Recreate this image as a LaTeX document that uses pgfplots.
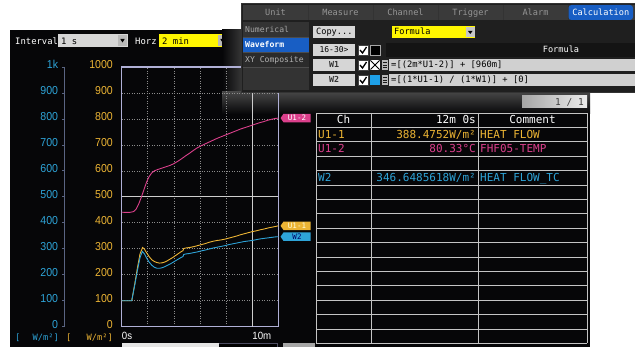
\documentclass[border=0pt]{standalone}
\usepackage{pgfplots}
\pgfplotsset{compat=1.18}
\usepackage{fontspec}
\setmainfont{Liberation Sans}
\newfontfamily\numfont{Liberation Sans}[FakeStretch=0.92]
\newfontfamily\mono{DejaVu Sans Mono}
\usetikzlibrary{shapes.symbols}

\newcommand\mf[1]{\mono\fontsize{#1}{#1}\selectfont}
\newcommand\nf[1]{\numfont\fontsize{#1}{#1}\selectfont}

\definecolor{scr}{RGB}{6,6,8}
\definecolor{yel}{RGB}{236,180,52}
\definecolor{pnk}{RGB}{220,64,140}
\definecolor{cyn}{RGB}{46,164,216}
\definecolor{frm}{RGB}{176,176,214}
\definecolor{gridc}{RGB}{140,140,140}
\definecolor{refl}{RGB}{205,205,205}
\definecolor{sline}{RGB}{90,100,130}
\definecolor{btn}{RGB}{214,214,214}
\definecolor{fld}{RGB}{208,208,208}
\definecolor{blu}{RGB}{24,94,196}
\definecolor{sel}{RGB}{30,160,232}
\definecolor{tabg}{RGB}{58,58,58}
\definecolor{tabt}{RGB}{150,150,150}
\definecolor{tline}{RGB}{196,196,196}
\definecolor{ylw}{RGB}{255,246,0}

\tikzset{tags/.style={shape=signal, signal to=west, signal pointer angle=110,
    minimum width=30pt, minimum height=8.4pt, inner sep=0pt,
    anchor=west, xshift=2pt, font=\mf{7.5}}}

\begin{document}
\begin{tikzpicture}
\useasboundingbox (0pt,0pt) rectangle (635pt,-347pt);
\fill[white] (0pt,0pt) rectangle (635pt,-347pt);

\begin{scope}[x=1pt,y=-1pt]
  % recorder screen
  \fill[scr] (10,30) rectangle (590,347);

  % toolbar
  \node[anchor=base west,inner sep=0,text=white,font=\mf{8.9}] at (15,44.5) {Interval};
  \fill[btn] (58,34) rectangle (128,47);
  \node[anchor=base west,inner sep=0,text=black,font=\mf{8.9}] at (61,44.5) {1 s};
  \fill[gray!55!white] (118,35) rectangle (127,46);
  \fill[black] (120.3,39) -- (124.7,39) -- (122.5,42.5) -- cycle;
  \node[anchor=base west,inner sep=0,text=white,font=\mf{8.9}] at (135,44.5) {Horz};
  \fill[ylw] (159,34) rectangle (228,47);
  \node[anchor=base west,inner sep=0,text=black,font=\mf{8.9}] at (162,44.5) {2 min};
  \fill[gray!55!white] (218,35) rectangle (227,46);
  \fill[black] (220.3,39) -- (224.7,39) -- (222.5,42.5) -- cycle;
  \node[anchor=base west,inner sep=0,text=white,font=\mf{8.9}] at (236,44.5) {D};

  % glow around the settings panel
  \shade[left color=scr, right color=gray!45!black] (222,30) rectangle (243,95);
  \shade[top color=gray!55!black, bottom color=scr] (222,92) rectangle (590,114);

  % cyan scale line and its ticks
  \draw[sline, line width=0.8pt] (64.3,67) -- (64.3,326.7);

  % units under the scales
  \node[anchor=base west,inner sep=0,text=cyn,font=\mf{8.7}] at (15,341) {[};
  \node[anchor=base east,inner sep=0,text=cyn,font=\mf{8.7}] at (59,341) {W/m²]};
  \node[anchor=base west,inner sep=0,text=yel,font=\mf{8.7}] at (66,341) {[};
  \node[anchor=base east,inner sep=0,text=yel,font=\mf{8.7}] at (113,341) {W/m²]};

  % scroll bar
  \fill[black!80!blue!40!gray] (121.7,343) rectangle (278,347);
  \fill[black] (122.5,343.8) rectangle (277.2,347);
  \fill[gray!20!white] (121.7,343) rectangle (219,347);
  \fill[gray!70!white] (283,343.5) rectangle (315,347);

  % page box
  \shade[left color=gray!70!white, right color=gray!15!white] (522,96) rectangle (587,108);
  \node[anchor=base east,inner sep=0,text=black!75,font=\mf{9.5}] at (584,105.5) {1 / 1};

  % value table
  \foreach \k in {0,...,16}
    \draw[tline,line width=0.8pt] (316,{113+14.4*\k}) -- (587,{113+14.4*\k});
  \foreach \xx in {316,371,478,587}
    \draw[tline,line width=0.8pt] (\xx,113) -- (\xx,343.4);
  \begin{scope}[every node/.style={inner sep=0,font=\mf{11}}]
    \node[anchor=base,text=white] at (343.5,124) {Ch};
    \node[anchor=base east,text=white] at (476,124) {12m 0s};
    \node[anchor=base,text=white] at (532.5,124) {Comment};
    \node[anchor=base west,text=yel] at (318,138.4) {U1-1};
    \node[anchor=base east,text=yel] at (476,138.4) {388.4752W/m²};
    \node[anchor=base west,text=yel] at (480,138.4) {HEAT FLOW};
    \node[anchor=base west,text=pnk] at (318,152.8) {U1-2};
    \node[anchor=base east,text=pnk] at (476,152.8) {80.33°C};
    \node[anchor=base west,text=pnk] at (480,152.8) {FHF05-TEMP};
    \node[anchor=base west,text=cyn] at (318,181.6) {W2};
    \node[anchor=base east,text=cyn] at (476,181.6) {346.6485618W/m²};
    \node[anchor=base west,text=cyn] at (480,181.6) {HEAT FLOW\_TC};
  \end{scope}
\end{scope}

% cyan scale
\begin{axis}[
  at={(64.3pt,-326.7pt)}, anchor=south west,
  scale only axis, width=2pt, height=259.7pt,
  xmin=0, xmax=1, ymin=0, ymax=1000,
  axis x line=none, axis y line=left,
  axis line style={-, draw=none},
  ytick={0,100,...,1000},
  yticklabels={0,100,200,300,400,500,600,700,800,900,1k},
  tick align=outside, major tick length=2pt,
  tick style={draw=sline, line width=0.8pt},
  yticklabel style={anchor=base east, inner sep=0pt, text=cyn, font=\nf{11.5}, xshift=-4pt, yshift=-1.5pt},
]
\end{axis}

% waveform area with the yellow scale
\begin{axis}[
  at={(121.7pt,-326.7pt)}, anchor=south west,
  scale only axis, width=156.6pt, height=259.7pt,
  xmin=0, xmax=12, ymin=0, ymax=1000,
  clip=false,
  axis line style={draw=frm, line width=1.1pt},
  xtick={0,2,4,6,8,10}, xticklabels={0s,,,,,10m},
  ytick={0,100,...,1000},
  yticklabels={0,100,200,300,400,500,600,700,800,900,1000},
  major tick length=0pt,
  grid=major,
  major grid style={draw=gridc, line width=0.7pt, dash pattern=on 0.7pt off 1.8pt},
  xticklabel style={anchor=base west, inner sep=0pt, text=white, font=\nf{10.5}, yshift=-12.8pt},
  yticklabel style={anchor=base east, inner sep=0pt, text=yel, font=\nf{11.5}, xshift=-8.7pt, yshift=-1.5pt},
]
\addplot[draw=refl, line width=0.9pt] coordinates {(0,500) (12,500)};
\addplot[draw=refl, line width=0.9pt] coordinates {(10,0) (10,1000)};

% U1-2 (FHF05-TEMP, x10)
\addplot[pnk, line width=0.9pt] coordinates {
 (0,441) (0.3,440) (0.6,440) (0.9,443) (1.1,452) (1.3,472) (1.5,498) (1.7,527)
 (1.9,556) (2.1,578) (2.3,592) (2.5,600) (2.8,606) (3.1,611) (3.4,616) (3.7,621)
 (4.0,628) (4.3,637) (4.6,647) (4.9,658) (5.2,668) (5.5,679) (5.8,689) (6.1,697)
 (6.4,704) (6.7,711) (7.0,718) (7.3,725) (7.6,731) (7.9,737) (8.2,743) (8.5,749)
 (8.8,755) (9.1,761) (9.4,766) (9.7,771) (10.0,776) (10.3,781) (10.6,786)
 (10.9,790) (11.2,795) (11.5,799) (11.8,802) (12,803.3)};

% U1-1 (HEAT FLOW)
\addplot[yel, line width=0.9pt] coordinates {
 (0,100) (0.4,100) (0.77,100) (1.0,165) (1.2,225) (1.4,280) (1.6,305) (1.75,298)
 (1.9,285) (2.1,270) (2.3,258) (2.5,251) (2.7,247) (2.9,245) (3.1,246) (3.3,249)
 (3.5,254) (3.7,260) (3.9,266) (4.1,273) (4.3,280) (4.5,287) (4.7,293) (4.75,301)
 (4.9,303) (5.2,305) (5.5,308) (5.8,312) (6.1,316) (6.4,320) (6.7,325) (7.0,329)
 (7.3,332) (7.6,334) (7.9,337) (8.2,341) (8.5,345) (8.8,349) (9.1,354) (9.4,358)
 (9.7,362) (10.0,366) (10.3,369) (10.6,373) (10.9,376) (11.2,380) (11.5,383)
 (11.8,386) (12,388.5)};

% W2 (HEAT FLOW_TC)
\addplot[cyn, line width=0.9pt] coordinates {
 (0,100) (0.4,100) (0.77,100) (1.0,160) (1.2,215) (1.4,265) (1.58,290) (1.75,280)
 (1.9,265) (2.1,249) (2.3,237) (2.5,229) (2.7,225) (2.9,225) (3.1,227) (3.3,231)
 (3.5,236) (3.7,241) (3.9,247) (4.1,253) (4.3,259) (4.5,265) (4.7,270) (4.75,278)
 (4.9,280) (5.2,282) (5.5,285) (5.8,288) (6.1,292) (6.4,295) (6.7,299) (7.0,303)
 (7.3,306) (7.6,309) (7.9,312) (8.2,316) (8.5,319) (8.8,322) (9.1,325) (9.4,328)
 (9.7,330) (10.0,332) (10.3,335) (10.6,338) (10.9,340) (11.2,342) (11.5,344)
 (11.8,346) (12,346.6)};

\node[tags, fill=pnk, text=white] at (axis cs:12,803.3) {U1-2};
\node[tags, fill=yel, text=white!85!yellow] at (axis cs:12,388.5) {U1-1};
\node[tags, fill=cyn, text=blue!40!black] at (axis cs:12,346.6) {W2};
\end{axis}

% settings panel
\begin{scope}[x=1pt,y=-1pt]
  \fill[black!88] (241,3) rectangle (635,92);
  \draw[gray!40!black, line width=0.8pt] (241,3) rectangle (636,92);
  \fill[tabg] (243,5) rectangle (635,20);
  \foreach \xx in {308,373,438,503,568}
    \draw[black!80, line width=0.8pt] (\xx,5) -- (\xx,20);
  \fill[blu, rounded corners=3pt] (568.5,5) rectangle (633,20);
  \begin{scope}[every node/.style={inner sep=0, anchor=base, font=\mf{8.6}}]
    \node[text=tabt] at (275.5,16) {Unit};
    \node[text=tabt] at (340.5,16) {Measure};
    \node[text=tabt] at (405.5,16) {Channel};
    \node[text=tabt] at (470.5,16) {Trigger};
    \node[text=tabt] at (535.5,16) {Alarm};
    \node[text=white] at (600.8,16) {Calculation};
  \end{scope}

  % left menu
  \fill[gray!40!black] (243,22) rectangle (309,37);
  \fill[blu] (243,37) rectangle (309,52);
  \fill[gray!34!black] (243,52) rectangle (309,67);
  \fill[black!80] (243,67) rectangle (309,90);
  \draw[black!70, line width=0.6pt] (243,37) -- (309,37) (243,52) -- (309,52) (243,67) -- (309,67);
  \node[anchor=base west,inner sep=0,text=gray!70!white,font=\mf{8.1}] at (245,33) {Numerical};
  \node[anchor=base west,inner sep=0,text=white,font=\mf{8.1}\bfseries] at (245,48) {Waveform};
  \node[anchor=base west,inner sep=0,text=gray!60!white,font=\mf{8.1}] at (245,63) {XY Composite};

  % first line: copy and operation type
  \fill[btn] (313,26) rectangle (355,38);
  \node[anchor=base west,inner sep=0,text=black,font=\mf{8.6}] at (316,35) {Copy...};
  \fill[ylw] (392,26) rectangle (475,38);
  \node[anchor=base west,inner sep=0,text=black,font=\mf{8.6}] at (394,35) {Formula};
  \fill[gray!45!white] (466,27) rectangle (474.5,37);
  \fill[black] (468,31) -- (472.5,31) -- (470.25,34) -- cycle;

  % second line: channel range and header
  \fill[btn] (313,44) rectangle (355,56);
  \node[anchor=base,inner sep=0,text=black,font=\mf{8}] at (334,53) {16-30>};
  \fill[black!92] (386,43) rectangle (635,57);
  \node[anchor=base,inner sep=0,text=white,font=\mf{8.6}] at (561,53) {Formula};

  % check boxes
  \foreach \yy in {45,60,75} {
    \filldraw[fill=white, draw=gray!50!black, line width=0.6pt] (358,\yy) rectangle (368,\yy+10);
    \draw[black, line width=1.3pt] (360,\yy+5) -- (362.5,\yy+8) -- (366.5,\yy+2);
  }
  \filldraw[fill=black, draw=gray!70!white, line width=0.7pt] (370,45) rectangle (380,55);
  \fill[white] (370,60) rectangle (380,70);
  \draw[black, line width=0.9pt] (370.5,60.5) -- (379.5,69.5) (370.5,69.5) -- (379.5,60.5);
  \fill[sel] (370,75) rectangle (380,85);
  \foreach \yy in {60,75} {
    \fill[gray!55!white] (381.5,\yy) rectangle (388,\yy+10);
    \draw[gray!20!black, line width=0.5pt] (382.5,\yy+2.5) -- (387,\yy+2.5) (382.5,\yy+5) -- (387,\yy+5) (382.5,\yy+7.5) -- (387,\yy+7.5);
  }

  % formula rows
  \fill[btn] (313,59) rectangle (355,71);
  \node[anchor=base,inner sep=0,text=black!80,font=\mf{8.3}\bfseries] at (334,68) {W1};
  \fill[fld] (389,59) rectangle (635,71);
  \node[anchor=base west,inner sep=0,text=black,font=\mf{8.8}] at (391,68) {=[(2m*U1-2)] + [960m]};
  \fill[btn] (313,74) rectangle (355,86);
  \node[anchor=base,inner sep=0,text=black!80,font=\mf{8.3}\bfseries] at (334,83) {W2};
  \fill[fld] (389,74) rectangle (635,86);
  \node[anchor=base west,inner sep=0,text=black,font=\mf{8.8}] at (391,83) {=[(1*U1-1) / (1*W1)] + [0]};
\end{scope}
\end{tikzpicture}
\end{document}
